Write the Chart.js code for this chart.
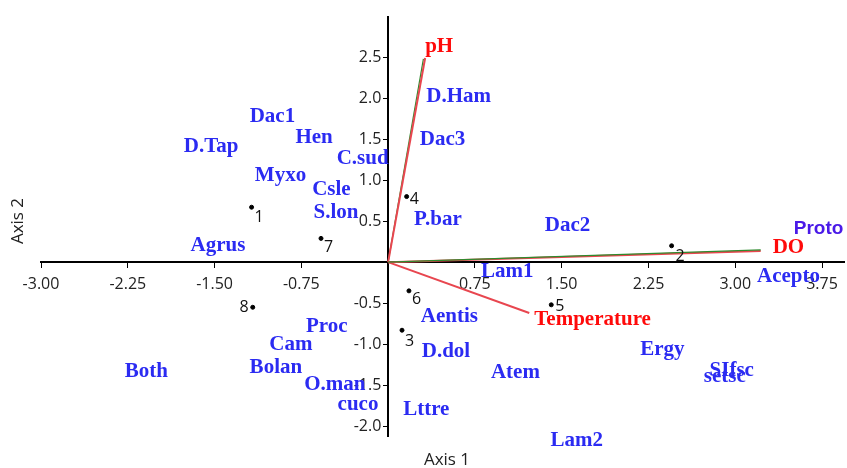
<!DOCTYPE html>
<html>
<head>
<meta charset="utf-8">
<script src="https://cdn.jsdelivr.net/npm/chart.js@4"></script>
<style>
  html, body { margin: 0; padding: 0; background: #fff; }
  #wrap { width: 847px; height: 468px; }
</style>
</head>
<body>
<div id="wrap"><canvas id="biplot" width="847" height="468"></canvas></div>
<script>
// Axis ticks
const xTicks = [-3.00, -2.25, -1.50, -0.75, 0, 0.75, 1.50, 2.25, 3.00, 3.75];
const yTicks = [-2.0, -1.5, -1.0, -0.5, 0, 0.5, 1.0, 1.5, 2.0, 2.5];

// Sites (black dots)
const siteIds = ['1', '2', '3', '4', '5', '6', '7', '8'];
const siteX = [-1.18, 2.45, 0.12, 0.16, 1.41, 0.18, -0.58, -1.17];
const siteY = [0.67, 0.20, -0.83, 0.80, -0.52, -0.35, 0.29, -0.55];

// Species (blue labels)
const speciesNames = ['D.Ham', 'Dac3', 'Dac1', 'Hen', 'D.Tap', 'C.sud', 'Myxo', 'Csle', 'S.lon', 'P.bar',
    'Dac2', 'Agrus', 'Lam1', 'Acepto', 'Aentis', 'Proc', 'Cam', 'D.dol', 'Both', 'Bolan',
    'Atem', 'Ergy', 'SIfsc', 'setsc', 'O.man', 'cuco', 'Lttre', 'Lam2'];
const speciesX = [0.61, 0.47, -1.00, -0.64, -1.53, -0.22, -0.93, -0.49, -0.45, 0.43,
    1.55, -1.47, 1.03, 3.46, 0.53, -0.53, -0.84, 0.50, -2.09, -0.97,
    1.10, 2.37, 2.97, 2.91, -0.46, -0.26, 0.33, 1.63];
const speciesY = [2.02, 1.50, 1.77, 1.52, 1.41, 1.26, 1.06, 0.89, 0.60, 0.52,
    0.45, 0.20, -0.12, -0.18, -0.66, -0.79, -1.00, -1.09, -1.34, -1.28,
    -1.35, -1.07, -1.32, -1.39, -1.49, -1.74, -1.80, -2.17];

// Proto is printed in a different style
const protoName = 'Proto';
const protoX = 3.72;
const protoY = 0.41;

// Environmental vectors
const envNames = ['pH', 'DO', 'Temperature'];
const envX = [0.32, 3.22, 1.22];
const envY = [2.49, 0.135, -0.62];
// second (green) set of vectors, partly hidden by the red ones
const envX2 = [0.305, 3.22];
const envY2 = [2.48, 0.15];

const labelStyle = {
    speciesFont: 'bold 21px "Liberation Serif", "Times New Roman", serif',
    speciesColor: '#2b2bf2',
    protoFont: 'bold 19px "Liberation Sans", Arial, sans-serif',
    protoColor: '#4a1ae8',
    envFont: 'bold 21px "Liberation Serif", "Times New Roman", serif',
    envColor: '#ff0a0a',
    envOffsets: [[0, -11, 'left'], [12, -4, 'left'], [5, 7, 'left']],
    siteFont: '16px "Open Sans", sans-serif',
    siteOffsets: [[3, 10, 'left'], [4, 11, 'left'], [3, 11, 'left'], [3, 3, 'left'],
        [4, 2, 'left'], [3, 9, 'left'], [3, 9, 'left'], [-4, 0, 'right']]
};

const textLabels = {
    id: 'textLabels',
    beforeDatasetsDraw(chart) {
        const ctx = chart.ctx;
        const xs = chart.scales.x;
        const ys = chart.scales.y;
        ctx.save();
        ctx.textBaseline = 'middle';

        // species
        ctx.font = labelStyle.speciesFont;
        ctx.fillStyle = labelStyle.speciesColor;
        ctx.textAlign = 'center';
        speciesNames.forEach((name, i) => {
            ctx.fillText(name, xs.getPixelForValue(speciesX[i]), ys.getPixelForValue(speciesY[i]));
        });
        ctx.font = labelStyle.protoFont;
        ctx.fillStyle = labelStyle.protoColor;
        ctx.fillText(protoName, xs.getPixelForValue(protoX), ys.getPixelForValue(protoY));
        ctx.restore();
    },
    afterDatasetsDraw(chart) {
        const ctx = chart.ctx;
        const xs = chart.scales.x;
        const ys = chart.scales.y;
        ctx.save();
        ctx.textBaseline = 'middle';

        // env vector labels
        ctx.font = labelStyle.envFont;
        ctx.fillStyle = labelStyle.envColor;
        envNames.forEach((name, i) => {
            const off = labelStyle.envOffsets[i];
            ctx.textAlign = off[2];
            ctx.fillText(name, xs.getPixelForValue(envX[i]) + off[0], ys.getPixelForValue(envY[i]) + off[1]);
        });

        // site numbers
        ctx.font = labelStyle.siteFont;
        ctx.fillStyle = '#111';
        siteIds.forEach((id, i) => {
            const off = labelStyle.siteOffsets[i];
            ctx.textAlign = off[2];
            ctx.fillText(id, xs.getPixelForValue(siteX[i]) + off[0], ys.getPixelForValue(siteY[i]) + off[1]);
        });

        // axis titles
        ctx.font = '17px "Open Sans", sans-serif';
        ctx.fillStyle = '#222';
        ctx.textAlign = 'center';
        ctx.fillText('Axis 1', 447, 460);
        ctx.translate(18, 221);
        ctx.rotate(-Math.PI / 2);
        ctx.fillText('Axis 2', 0, 0);
        ctx.restore();
    }
};

function vector(x, y) {
    return [{ x: 0, y: 0 }, { x: x, y: y }];
}

const datasets = [];
envX.forEach((x, i) => {
    datasets.push({
        type: 'line',
        data: vector(x, envY[i]),
        borderColor: '#e8464f',
        borderWidth: 2,
        pointRadius: 0,
        showLine: true,
        order: 2
    });
});
envX2.forEach((x, i) => {
    datasets.push({
        type: 'line',
        data: vector(x, envY2[i]),
        borderColor: '#2e8b2e',
        borderWidth: 1.2,
        pointRadius: 0,
        showLine: true,
        order: i === 0 ? 3 : 1
    });
});
datasets.push({
    type: 'scatter',
    data: siteX.map((x, i) => ({ x: x, y: siteY[i] })),
    backgroundColor: '#000',
    borderColor: '#000',
    pointRadius: 2,
    pointHoverRadius: 2,
    order: 0
});

function fmtTick(digits, suffix) {
    return function (value) {
        if (Math.abs(value) < 1e-9) return '';
        return Number(value).toFixed(digits) + suffix;
    };
}

new Chart(document.getElementById('biplot'), {
    type: 'scatter',
    data: { datasets: datasets },
    options: {
        responsive: false,
        animation: false,
        layout: { padding: { left: 41, right: 0, top: 17, bottom: 32 } },
        plugins: {
            legend: { display: false },
            tooltip: { enabled: false }
        },
        scales: {
            x: {
                type: 'linear',
                position: { y: 0 },
                min: -3.0,
                max: 3.94,
                afterBuildTicks: (scale) => { scale.ticks = xTicks.map(v => ({ value: v })); },
                border: { color: '#000', width: 2 },
                grid: { drawOnChartArea: false, drawTicks: true, tickLength: 5, color: '#000' },
                ticks: {
                    autoSkip: false,
                    maxRotation: 0,
                    padding: 8,
                    color: '#222',
                    font: { family: '"Open Sans", sans-serif', size: 16 },
                    callback: fmtTick(2, '')
                }
            },
            y: {
                type: 'linear',
                position: { x: 0 },
                min: -2.12,
                max: 2.99,
                afterBuildTicks: (scale) => { scale.ticks = yTicks.map(v => ({ value: v })); },
                border: { color: '#000', width: 2 },
                grid: { drawOnChartArea: false, drawTicks: true, tickLength: 4, color: '#000' },
                ticks: {
                    autoSkip: false,
                    padding: 2,
                    color: '#222',
                    font: { family: '"Open Sans", sans-serif', size: 16 },
                    callback: fmtTick(1, ' \u2009')
                }
            }
        }
    },
    plugins: [textLabels]
});
</script>
</body>
</html>
